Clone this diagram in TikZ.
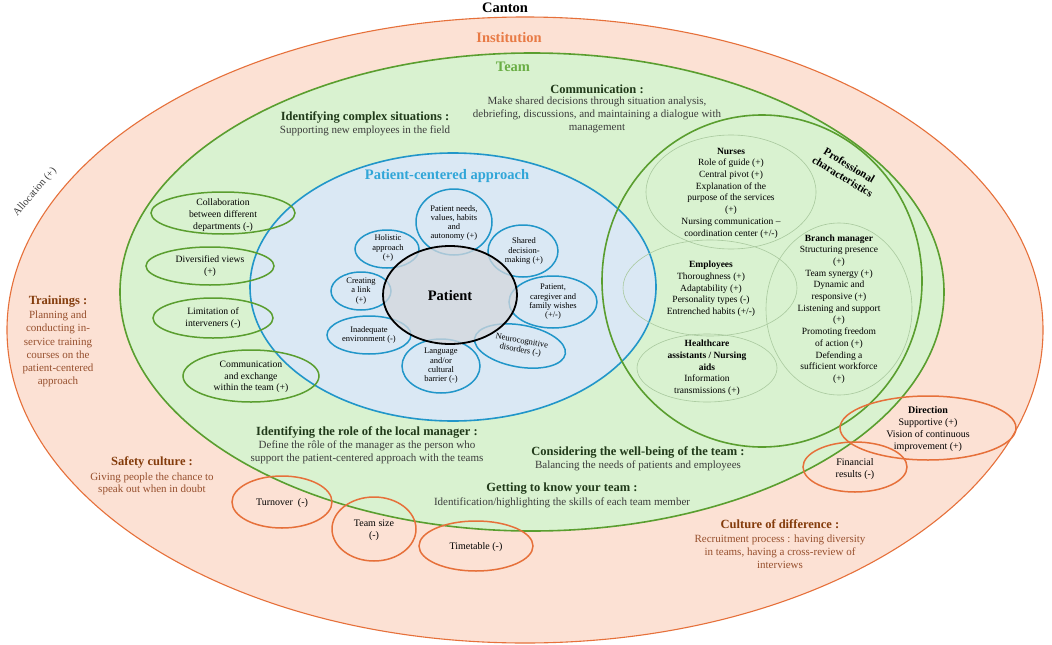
\documentclass[tikz,border=0pt]{standalone}
\usepackage{fontspec}
\setmainfont{Liberation Serif}
\usepackage{tikz}

\definecolor{instfill}{HTML}{FCE1D4}
\definecolor{instline}{HTML}{E6703A}
\definecolor{insttitle}{HTML}{E87A45}
\definecolor{teamfill}{HTML}{D9F2D0}
\definecolor{teamline}{HTML}{5A9E2F}
\definecolor{teamtitle}{HTML}{6AAE45}
\definecolor{pcafill}{HTML}{DAE8F4}
\definecolor{pcaline}{HTML}{2196C9}
\definecolor{pcatitle}{HTML}{31A6D8}
\definecolor{patfill}{HTML}{D4D7DC}
\definecolor{profline}{HTML}{A9C99E}
\definecolor{brownhead}{HTML}{843C0C}
\definecolor{browntext}{HTML}{97502E}
\definecolor{teamhead}{HTML}{213A1A}
\definecolor{teamtext}{HTML}{3C3C3C}

\begin{document}
\begin{tikzpicture}[x=1pt, y=-1pt,
  every node/.style={inner sep=0pt, align=center},
  title/.style={font=\bfseries\fontsize{14.5}{16}\selectfont},
  hd/.style={font=\bfseries\fontsize{12.5}{14}\selectfont},
  txt/.style={font=\fontsize{11}{13}\selectfont},
  lefttxt/.style={font=\fontsize{9.7}{11.7}\selectfont},
  proftxt/.style={font=\fontsize{9.5}{11.7}\selectfont},
  flower/.style={font=\fontsize{8.5}{9.3}\selectfont},
  petal/.style={pcaline, line width=1.5pt},
  factor/.style={teamline, line width=1.5pt},
  outside/.style={instline, line width=1.5pt},
  group/.style={profline, line width=0.6pt}]
\useasboundingbox (0,0) rectangle (1052,645);
\fill[white] (0,0) rectangle (1052,645);

% nested levels
\draw[instline, fill=instfill, line width=1.1pt] (525,330) ellipse [x radius=518, y radius=313];
\draw[teamline, fill=teamfill, line width=1.6pt] (532,292) ellipse [x radius=412, y radius=239];
\fill[teamfill] (762,281) ellipse [x radius=160, y radius=166];
\draw[pcaline, fill=pcafill, line width=1.6pt] (453,287) ellipse [x radius=203, y radius=134];
\draw[teamline, line width=1.6pt] (762,281) ellipse [x radius=160, y radius=166];

% professional groups
\draw[group] (731,192) ellipse [x radius=85, y radius=57];
\draw[group] (710,288) ellipse [x radius=87, y radius=48];
\draw[group] (707,368) ellipse [x radius=70, y radius=34];
\draw[group] (839,309) ellipse [x radius=73, y radius=86];

% team factors
\draw[factor] (223,213) ellipse [x radius=72, y radius=21];
\draw[factor] (210,266) ellipse [x radius=64, y radius=19];
\draw[factor] (213,318) ellipse [x radius=60, y radius=20];
\draw[factor] (251,376) ellipse [x radius=68, y radius=26];

% institution factors
\draw[outside] (928,428) ellipse [x radius=88, y radius=32];
\draw[outside] (855,467) ellipse [x radius=52, y radius=25];
\draw[outside] (282,502) ellipse [x radius=50, y radius=26];
\draw[outside] (374,529) ellipse [x radius=42, y radius=32];
\draw[outside] (476,546) ellipse [x radius=57, y radius=25];

% petals round the patient
\draw[petal] (454,222) ellipse [x radius=38, y radius=33];
\draw[petal] (387,249) ellipse [x radius=32, y radius=19];
\draw[petal] (523,251) ellipse [x radius=35, y radius=26];
\draw[petal] (361,291) ellipse [x radius=30, y radius=19];
\draw[petal] (553,302) ellipse [x radius=44, y radius=26];
\draw[petal] (369,335) ellipse [x radius=42, y radius=19];
\draw[petal, rotate around={-10:(520,346)}] (520,346) ellipse [x radius=46, y radius=21];
\draw[petal] (441,366) ellipse [x radius=39, y radius=27];
\fill[patfill, fill opacity=0.75] (450,295) ellipse [x radius=67, y radius=49];
\draw[black, line width=1.8pt] (450,295) ellipse [x radius=67, y radius=49];

% titles
\node[title] (canton) at (505,8) {Canton};
\node[title, insttitle] (inst) at (509,38) {Institution};
\node[title, teamtitle] (team) at (513,67) {Team};
\node[title, pcatitle] (pca) at (447,176) {Patient-centered approach};
\node[title] (patient) at (450,296) {Patient};
\node[font=\fontsize{10.5}{12}\selectfont, teamtext, rotate=49] (alloc) at (35,192) {Allocation (+)};

% team level
\node[hd, teamhead] (commhead) at (597,89) {Communication :};
\node[txt, teamtext] (commtext) at (597,115) {Make shared decisions through situation analysis,\\ debriefing, discussions, and maintaining a dialogue with\\ management};
\node[hd, teamhead] (cplxhead) at (365,117) {Identifying complex situations :};
\node[txt, teamtext] (cplxtext) at (365,131) {Supporting new employees in the field};
\node[hd, teamhead] (rolehead) at (367,432) {Identifying the role of the local manager :};
\node[txt, teamtext] (roletext) at (367,452) {Define the rôle of the manager as the person who\\ support the patient-centered approach with the teams};
\node[hd, teamhead] (wellhead) at (638,452) {Considering the well-being of the team :};
\node[txt, teamtext] (welltext) at (638,466) {Balancing the needs of patients and employees};
\node[hd, teamhead] (knowhead) at (562,489) {Getting to know your team :};
\node[txt, teamtext] (knowtext) at (562,503) {Identification/highlighting the skills of each team member};

\node[lefttxt] (collab) at (223,215) {Collaboration\\ between different\\ departments (-)};
\node[lefttxt] (views) at (210,266) {Diversified views\\ (+)};
\node[lefttxt] (limit) at (213,318) {Limitation of\\ interveners (-)};
\node[lefttxt] (exch) at (251,377) {Communication\\ and exchange\\ within the team (+)};

% professional characteristics
\node[font=\bfseries\fontsize{11}{13}\selectfont, rotate=-31] (profchar) at (846,171) {Professional\\ characteristics};
\node[proftxt] (nurses) at (731,193) {\textbf{Nurses}\\ Role of guide (+)\\ Central pivot (+)\\ Explanation of the\\ purpose of the services\\ (+)\\ Nursing communication --\\ coordination center (+/-)};
\node[proftxt] (employees) at (711,289) {\textbf{Employees}\\ Thoroughness (+)\\ Adaptability (+)\\ Personality types (-)\\ Entrenched habits (+/-)};
\node[proftxt] (aids) at (707,368) {\textbf{Healthcare}\\ \textbf{assistants / Nursing}\\ \textbf{aids}\\ Information\\ transmissions (+)};
\node[proftxt] (branch) at (839,309) {\textbf{Branch manager}\\ Structuring presence\\ (+)\\ Team synergy (+)\\ Dynamic and\\ responsive (+)\\ Listening and support\\ (+)\\ Promoting freedom\\ of action (+)\\ Defending a\\ sufficient workforce\\ (+)};

% patient level
\node[flower] (needs) at (454,223) {Patient needs,\\ values, habits\\ and\\ autonomy (+)};
\node[flower] (holist) at (388,248) {Holistic\\ approach\\ (+)};
\node[flower] (shared) at (524,251) {Shared\\ decision-\\ making (+)};
\node[flower] (link) at (361,291) {Creating\\ a link\\ (+)};
\node[flower] (wishes) at (553,302) {Patient,\\ caregiver and\\ family wishes\\ (+/-)};
\node[flower] (envir) at (369,335) {Inadequate\\ environment (-)};
\node[flower, rotate=-10] (neuro) at (521,346) {Neurocognitive\\ disorders (-)};
\node[flower] (lang) at (441,366) {Language\\ and/or\\ cultural\\ barrier (-)};

% institution level
\node[hd, brownhead] (trainhead) at (58,302) {Trainings :};
\node[font=\fontsize{11}{13.2}\selectfont, browntext] (traintext) at (58,349) {Planning and\\ conducting in-\\ service training\\ courses on the\\ patient-centered\\ approach};
\node[hd, brownhead] (safehead) at (152,462) {Safety culture :};
\node[font=\fontsize{11}{12.5}\selectfont, browntext] (safetext) at (152,484) {Giving people the chance to\\ speak out when in doubt};
\node[hd, brownhead] (diffhead) at (780,524) {Culture of difference :};
\node[txt, browntext] (difftext) at (780,552) {Recruitment process : having diversity\\ in teams, having a cross-review of\\ interviews};

\node[font=\fontsize{10}{11.8}\selectfont] (direction) at (928,429) {\textbf{Direction}\\ Supportive (+)\\ Vision of continuous\\ improvement (+)};
\node[font=\fontsize{10}{12}\selectfont] (finance) at (855,469) {Financial\\ results (-)};
\node[font=\fontsize{10}{12}\selectfont] (turnover) at (282,503) {Turnover~~(-)};
\node[font=\fontsize{10}{12}\selectfont] (size) at (374,530) {Team size\\ (-)};
\node[font=\fontsize{10}{12}\selectfont] (timetable) at (476,547) {Timetable (-)};
% sizes in px, 1px = 1pt
\end{tikzpicture}
\end{document}
